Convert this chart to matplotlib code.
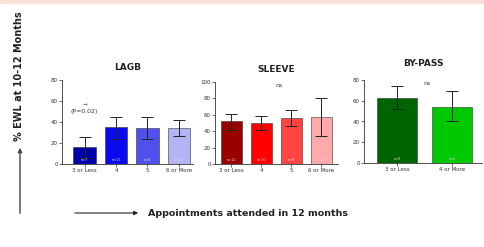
import matplotlib
matplotlib.use("Agg")
import matplotlib.pyplot as plt
import numpy as np

# Data
lagb_cats = ["3 or Less", "4", "5", "6 or More"]
lagb_means = [16, 35, 34.5, 34.5]
lagb_upper = [26, 45, 45, 42]
lagb_lower = [6, 24, 24, 27]
lagb_n = ["n=7", "n=11", "n=6", "n=10"]
lagb_colors = ["#0000a8", "#0a0aee", "#5050ee", "#b4b4f4"]

sleeve_cats = ["3 or Less", "4", "5", "6 or More"]
sleeve_means = [52, 50, 55.5, 57]
sleeve_upper = [61, 59, 66, 80]
sleeve_lower = [42, 41, 46, 34]
sleeve_n = ["n=12", "n=10", "n=8", "n=6"]
sleeve_colors = ["#9a0000", "#ff0000", "#ff4444", "#ffaaaa"]

bypass_cats = ["3 or Less", "4 or More"]
bypass_means = [63, 54]
bypass_upper = [74, 69]
bypass_lower = [52, 40]
bypass_n = ["n=8", "n=6"]
bypass_colors = ["#006400", "#00c800"]

W, H = 485, 247
fig = plt.figure(figsize=(W / 100, H / 100), dpi=100)
fig.patch.set_facecolor("white")

# top pink strip
fig.patches.append(plt.Rectangle((0, 1 - 3 / H), 1, 3 / H, transform=fig.transFigure,
                                 color="#f8e2da", zorder=0))

def panel(rect, cats, means, up, lo, ns, colors, title, ymax, yticks, pad=7):
    ax = fig.add_axes(rect)
    x = np.arange(len(cats))
    err = [np.array(means) - np.array(lo), np.array(up) - np.array(means)]
    ax.bar(x, means, width=0.72, color=colors, edgecolor="#333333", linewidth=0.4, zorder=2)
    ax.errorbar(x, means, yerr=err, fmt="none", ecolor="#222222", elinewidth=0.7,
                capsize=4, capthick=0.7, zorder=3)
    for xi, t in zip(x, ns):
        ax.text(xi, ymax * 0.05, t, ha="center", va="center", fontsize=2.5,
                color="#dddddd", zorder=4)
    ax.set_ylim(0, ymax)
    ax.set_xlim(-0.55, len(cats) - 0.45)
    ax.set_yticks(yticks)
    ax.set_xticks(x)
    ax.set_xticklabels(cats)
    ax.tick_params(axis="both", labelsize=4, length=2, width=0.5, pad=1, colors="#333333")
    for s in ["top", "right"]:
        ax.spines[s].set_visible(False)
    for s in ["left", "bottom"]:
        ax.spines[s].set_linewidth(0.6)
        ax.spines[s].set_color("#333333")
    ax.set_title(title, fontsize=6.5, fontweight="bold", pad=pad, color="#222222")
    return ax

ax1 = panel([62 / W, 1 - 164 / H, 131 / W, 84 / H], lagb_cats, lagb_means, lagb_upper,
            lagb_lower, lagb_n, lagb_colors, "LAGB", 80, [0, 20, 40, 60, 80])
ax1.set_xlim(-0.72, 3.45)
ax1.text(0, 50, "(P=0.02)", ha="center", va="center", fontsize=4.5, color="#333333")
ax1.text(0, 57, "\u2192", ha="center", va="center", fontsize=4, color="#555555")

ax2 = panel([215 / W, 1 - 164 / H, 123 / W, 82 / H], sleeve_cats, sleeve_means, sleeve_upper,
            sleeve_lower, sleeve_n, sleeve_colors, "SLEEVE", 100, [0, 20, 40, 60, 80, 100])
ax2.text(1.6, 96, "ns", ha="center", va="center", fontsize=4.5, color="#333333")

ax3 = panel([364 / W, 1 - 163 / H, 118 / W, 83 / H], bypass_cats, bypass_means, bypass_upper,
            bypass_lower, bypass_n, bypass_colors, "BY-PASS", 80, [0, 20, 40, 60, 80], pad=10)
ax3.set_xlim(-0.6, 1.55)
ax3.text(0.55, 77, "ns", ha="center", va="center", fontsize=4.5, color="#333333")

# y label and arrow
fig.text(19 / W, 1 - 76 / H, "% EWL at 10-12 Months", rotation=90, ha="center", va="center",
         fontsize=7, fontweight="bold", color="#222222")
fig.add_artist(matplotlib.patches.FancyArrowPatch((20 / W, 1 - 216 / H), (20 / W, 1 - 145 / H),
               transform=fig.transFigure, arrowstyle="-|>", mutation_scale=6,
               color="#444444", linewidth=1.0))

# x label and arrow
fig.add_artist(matplotlib.patches.FancyArrowPatch((72 / W, 1 - 213 / H), (141 / W, 1 - 213 / H),
               transform=fig.transFigure, arrowstyle="-|>", mutation_scale=6,
               color="#222222", linewidth=0.8))
fig.text(148 / W, 1 - 213 / H, "Appointments attended in 12 months", ha="left", va="center",
         fontsize=6.8, fontweight="bold", color="#222222")

fig.savefig("out.png", dpi=100)
